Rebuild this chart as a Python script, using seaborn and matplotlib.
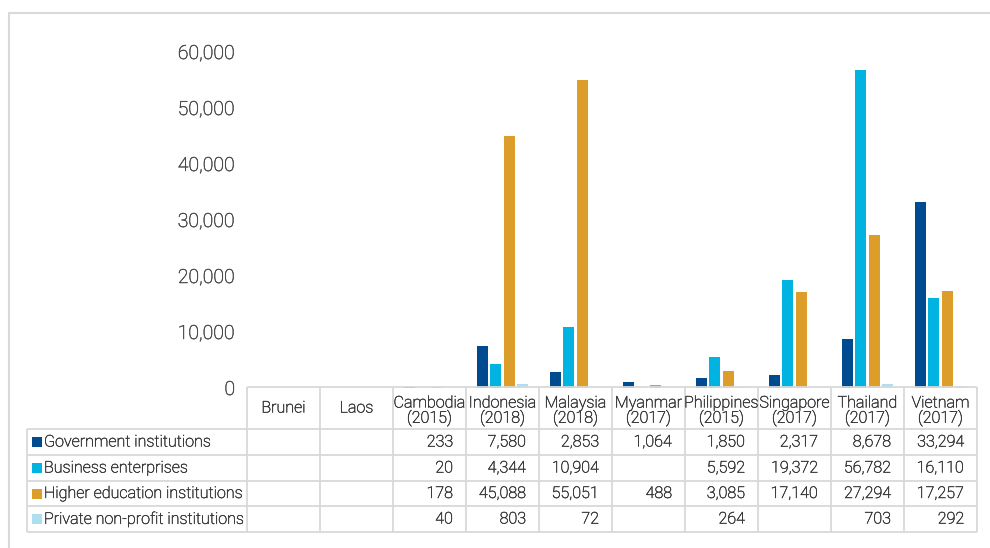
import numpy as np
import pandas as pd
import matplotlib
matplotlib.use("Agg")
import matplotlib.pyplot as plt
import matplotlib.patheffects as pe
from matplotlib.lines import Line2D
from matplotlib.ticker import FuncFormatter
import seaborn as sns

# R&D personnel by sector of performance, ASEAN member states
countries = ["Brunei", "Laos", "Cambodia", "Indonesia", "Malaysia", "Myanmar",
             "Philippines", "Singapore", "Thailand", "Vietnam"]
years = ["", "", "(2015)", "(2018)", "(2018)", "(2017)", "(2015)", "(2017)",
         "(2017)", "(2017)"]
sectors = ["Government institutions", "Business enterprises",
           "Higher education institutions", "Private non-profit institutions"]
government = [None, None, 233, 7580, 2853, 1064, 1850, 2317, 8678, 33294]
business = [None, None, 20, 4344, 10904, None, 5592, 19372, 56782, 16110]
higher_edu = [None, None, 178, 45088, 55051, 488, 3085, 17140, 27294, 17257]
private_np = [None, None, 40, 803, 72, None, 264, None, 703, 292]
yticks = [0, 10000, 20000, 30000, 40000, 50000, 60000]
colors = ["#004A8F", "#00B3E0", "#DC9D2B", "#ADDFF0"]

series = [government, business, higher_edu, private_np]
records = []
for sector, vals in zip(sectors, series):
    for country, v in zip(countries, vals):
        if v is not None:
            records.append({"country": country, "sector": sector, "value": v})
df = pd.DataFrame(records)

sns.set_style("white")
plt.rcParams["font.family"] = ["Roboto", "DejaVu Sans"]

W, H = 990, 548
fig = plt.figure(figsize=(W / 100, H / 100), dpi=100)

txt_c = "#3A3A3A"
# slight stroke so the light face reads at screen resolution
thicken = [pe.withStroke(linewidth=0.35, foreground=txt_c)]

# pixel geometry helpers
px_left, px_right = 247, 977
px_zero, px_top = 388, 52
ax = fig.add_axes([px_left / W, (H - px_zero) / H,
                   (px_right - px_left) / W, (px_zero - px_top) / H])

sns.barplot(data=df, x="country", y="value", hue="sector", order=countries,
            hue_order=sectors, palette=colors, saturation=1, width=0.74,
            gap=0.18, errorbar=None, linewidth=0, legend=False, ax=ax)
ax.set_xlim(-0.5, len(countries) - 0.5)
ax.set_ylim(0, 60000)
ax.set_yticks(yticks)
ax.yaxis.set_major_formatter(FuncFormatter(lambda v, p: f"{v:,.0f}"))
ax.tick_params(axis="y", length=0, pad=8.5, labelsize=14, labelcolor="#4A4A4A")
for lbl in ax.get_yticklabels():
    lbl.set_fontweight("light")
    lbl.set_path_effects([pe.withStroke(linewidth=0.35, foreground="#4A4A4A")])
ax.set_xticks([])
ax.set_xlabel("")
ax.set_ylabel("")
for s in ax.spines.values():
    s.set_visible(False)
ax.patch.set_alpha(0)

# data table below the plot
col_w = 73.0
tab_left, tab_top, tab_bottom = 27, 387, 532
label_cols = (px_left - tab_left) / col_w
x0 = -0.5 - label_cols
tax = fig.add_axes([tab_left / W, (H - tab_bottom) / H,
                    (px_right - tab_left) / W, (tab_bottom - tab_top) / H])
tax.set_xlim(x0, len(countries) - 0.5)
tax.set_ylim(tab_bottom - tab_top, 0)
tax.axis("off")

grid_c = "#D9D9D9"
lw = 1.3
row_edges = [0, 42, 68, 94, 119, 145]
tax.hlines(0, -0.5, len(countries) - 0.5, color=grid_c, lw=lw, clip_on=False)
tax.hlines(row_edges[1:], x0, len(countries) - 0.5, color=grid_c, lw=lw, clip_on=False)
tax.vlines(x0, row_edges[1], row_edges[-1], color=grid_c, lw=lw, clip_on=False)
tax.vlines(np.arange(len(countries) + 1) - 0.5, 0, row_edges[-1], color=grid_c,
           lw=lw, clip_on=False)

fs = 11.6
fw = "light"
style = dict(fontsize=fs, color=txt_c, fontweight=fw, path_effects=thicken)
for i, (c, y) in enumerate(zip(countries, years)):
    if y:
        tax.text(i, 16, c, ha="center", va="center", **style)
        tax.text(i, 31, y, ha="center", va="center", **style)
    else:
        tax.text(i, 21, c, ha="center", va="center", **style)

pad = 13 / col_w
for r, (sector, vals, col) in enumerate(zip(sectors, series, colors)):
    yc = (row_edges[r + 1] + row_edges[r + 2]) / 2
    tax.scatter([x0 + 9.5 / col_w], [yc], marker="s", s=62, color=col,
                linewidths=0, clip_on=False)
    tax.text(x0 + 17 / col_w, yc, sector, ha="left", va="center", **style)
    for i, v in enumerate(vals):
        if v is not None:
            tax.text(i + 0.5 - pad, yc, f"{v:,}", ha="right", va="center", **style)

# outer frame
frame_c = "#D9D9D9"
fig.add_artist(Line2D([9 / W, 1.0], [1 - 13 / H, 1 - 13 / H],
                      transform=fig.transFigure, color=frame_c, lw=1.5))
fig.add_artist(Line2D([9 / W, 9 / W], [0.0, 1 - 13 / H],
                      transform=fig.transFigure, color=frame_c, lw=1.5))

fig.savefig("out.png", dpi=100, facecolor="white")
